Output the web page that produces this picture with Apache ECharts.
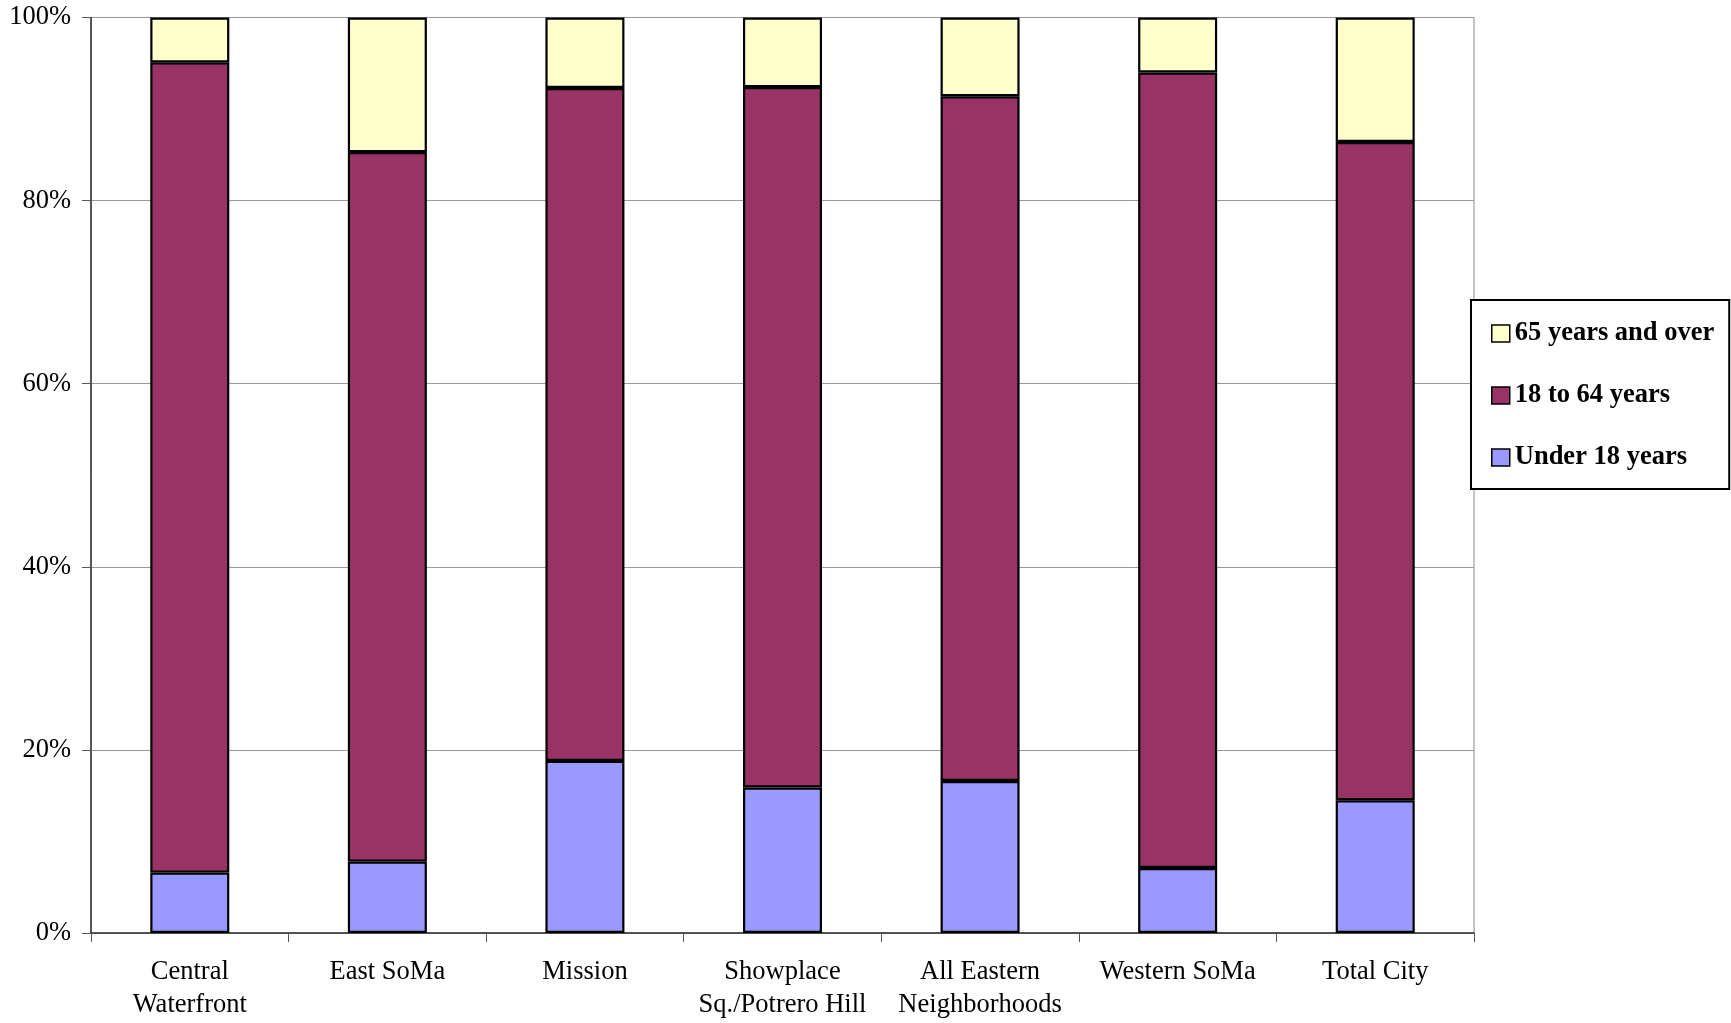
<!DOCTYPE html>
<html>
<head>
<meta charset="utf-8">
<script src="https://cdn.jsdelivr.net/npm/echarts@6/dist/echarts.min.js"></script>
<style>html,body{margin:0;padding:0;background:#fff}#c{width:1731px;height:1023px}</style>
</head>
<body>
<div id="c"></div>
<script>
var categories = ['Central\nWaterfront', 'East SoMa', 'Mission', 'Showplace\nSq./Potrero Hill', 'All Eastern\nNeighborhoods', 'Western SoMa', 'Total City'];
var under18 = [6.6, 7.8, 18.8, 15.9, 16.6, 7.1, 14.5];
var age18to64 = [88.5, 77.5, 73.5, 76.5, 74.8, 86.9, 71.9];
var age65plus = [4.9, 14.7, 7.7, 7.6, 8.6, 6.0, 13.6];
var yTicks = [0, 20, 40, 60, 80, 100];

var font = '"Liberation Serif", "Times New Roman", serif';
var chart = echarts.init(document.getElementById('c'));
function bar(name, data, color) {
  return {
    name: name, type: 'bar', stack: 'a', data: data, barWidth: '40%',
    itemStyle: { color: color, borderColor: '#000', borderWidth: 2.2 }
  };
}
chart.setOption({
  animation: false,
  textStyle: { fontFamily: font, color: '#000' },
  grid: { left: 91, right: 257, top: 17.5, bottom: 90, show: true, borderColor: '#888', borderWidth: 1, outerBoundsMode: 'none', containLabel: false },
  legend: {
    orient: 'vertical', left: 1471, top: 300,
    padding: [20, 15, 18, 20], itemGap: 35, itemWidth: 18, itemHeight: 17,
    icon: 'rect',
    borderColor: '#000', borderWidth: 2, backgroundColor: '#fff',
    data: ['65 years and over', '18 to 64 years', 'Under 18 years'],
    textStyle: { fontFamily: font, fontSize: 26.5, fontWeight: 'bold', color: '#000' },
    itemStyle: { borderColor: '#000', borderWidth: 1.5 }
  },
  xAxis: {
    type: 'category', data: categories,
    axisLine: { lineStyle: { color: '#333', width: 1.5 } },
    axisTick: { show: true, length: 9, lineStyle: { color: '#555' } },
    axisLabel: { fontFamily: font, fontSize: 26.5, color: '#000', lineHeight: 33, margin: 23, interval: 0 }
  },
  yAxis: {
    type: 'value', min: 0, max: 100, interval: 20,
    axisLine: { show: true, lineStyle: { color: '#333', width: 1.5 } },
    axisTick: { show: true, length: 9, lineStyle: { color: '#555' } },
    splitLine: { lineStyle: { color: '#999', width: 1 } },
    axisLabel: {
      fontFamily: font, fontSize: 26.5, color: '#000', margin: 20,
      formatter: function (v) { return yTicks.indexOf(v) >= 0 ? v + '%' : ''; }
    }
  },
  series: [
    bar('Under 18 years', under18, '#9999FF'),
    bar('18 to 64 years', age18to64, '#993366'),
    bar('65 years and over', age65plus, '#FFFFCC')
  ]
});
</script>
</body>
</html>
